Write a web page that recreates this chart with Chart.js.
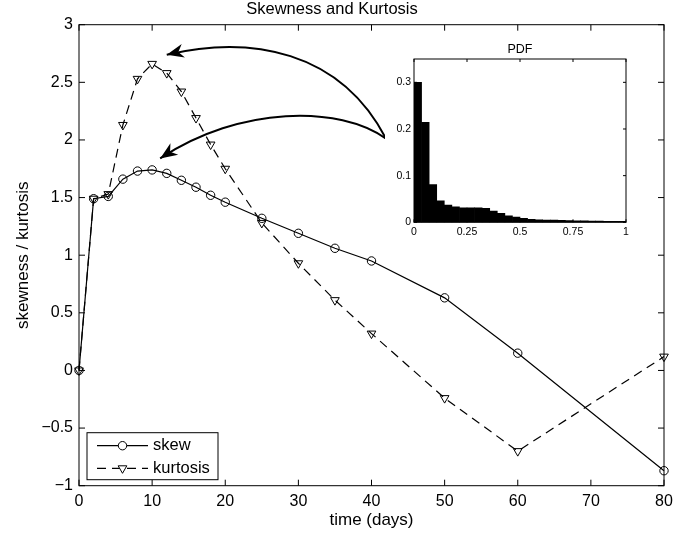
<!DOCTYPE html>
<html lang="en">
<head>
<meta charset="UTF-8">
<title>Skewness and Kurtosis</title>
<script src="https://cdn.jsdelivr.net/npm/chart.js"></script>
<style>
  body { margin: 0; background: #fff; }
  #wrap { position: relative; width: 695px; height: 535px; }
  #mainChart { position: absolute; left: 0; top: 0; }
  #pdfChart { position: absolute; left: 385px; top: 38px; }
</style>
</head>
<body>
<div id="wrap">
  <canvas id="mainChart" width="695" height="535"></canvas>
  <canvas id="pdfChart" width="255" height="205"></canvas>
</div>
<script>
// main plot data
const days = [0, 2, 4, 6, 8, 10, 12, 14, 16, 18, 20, 25, 30, 35, 40, 50, 60, 80];
const skew = [0, 1.49, 1.51, 1.66, 1.73, 1.74, 1.71, 1.65, 1.59, 1.52, 1.46, 1.32, 1.19, 1.06, 0.95, 0.63, 0.15, -0.87];
const kurtosis = [0, 1.49, 1.53, 2.13, 2.53, 2.66, 2.58, 2.42, 2.19, 1.96, 1.75, 1.28, 0.93, 0.61, 0.32, -0.24, -0.70, 0.12];
const dayTicks = [0, 10, 20, 30, 40, 50, 60, 70, 80];
const valueTicks = [-1, -0.5, 0, 0.5, 1, 1.5, 2, 2.5, 3];

// inset histogram (28 bins on [0, 1])
const pdfValues = [0.300, 0.214, 0.081, 0.046, 0.037, 0.033, 0.031, 0.031, 0.031, 0.030,
                   0.024, 0.019, 0.014, 0.011, 0.0085, 0.0065, 0.0055, 0.005, 0.0045, 0.004,
                   0.0035, 0.003, 0.003, 0.0025, 0.0025, 0.002, 0.002, 0.002];
const pdfXTicks = [0, 0.25, 0.5, 0.75, 1];
const pdfYTicks = [0, 0.1, 0.2, 0.3];

// annotation arrows, in data units (start, two control points, end)
const arrows = [
  [[42.0, 2.01], [35.7, 2.78], [23.4, 2.91], [12.0, 2.74]],
  [[42.0, 2.01], [35.7, 2.30], [22.0, 2.30], [11.1, 1.84]]
];

const FONT = "'Liberation Sans', Arial, Helvetica, sans-serif";
Chart.defaults.font.family = FONT;
Chart.defaults.color = '#000';

const minus = v => String(v).replace('-', '\u2212');

function setTicks(values) {
  return scale => { scale.ticks = values.map(v => ({ value: v })); };
}

// box + inward tick marks, MATLAB style
function drawFrame(chart, len) {
  const { ctx, chartArea: a, scales: { x, y } } = chart;
  ctx.save();
  ctx.strokeStyle = '#000';
  ctx.lineWidth = 1;
  ctx.setLineDash([]);
  ctx.strokeRect(a.left, a.top, a.right - a.left, a.bottom - a.top);
  ctx.beginPath();
  x.ticks.forEach(t => {
    const p = x.getPixelForValue(t.value);
    ctx.moveTo(p, a.bottom); ctx.lineTo(p, a.bottom - len);
    ctx.moveTo(p, a.top); ctx.lineTo(p, a.top + len);
  });
  y.ticks.forEach(t => {
    const p = y.getPixelForValue(t.value);
    ctx.moveTo(a.left, p); ctx.lineTo(a.left + len, p);
    ctx.moveTo(a.right, p); ctx.lineTo(a.right - len, p);
  });
  ctx.stroke();
  ctx.restore();
}

const mainDecor = {
  id: 'mainDecor',
  afterDraw(chart) {
    const { ctx, chartArea: a, scales: { x, y } } = chart;
    drawFrame(chart, 6);

    // arrows
    ctx.save();
    ctx.strokeStyle = '#000';
    ctx.fillStyle = '#000';
    ctx.lineWidth = 2;
    arrows.forEach(pts => {
      const p = pts.map(d => [x.getPixelForValue(d[0]), y.getPixelForValue(d[1])]);
      ctx.beginPath();
      ctx.moveTo(p[0][0], p[0][1]);
      ctx.bezierCurveTo(p[1][0], p[1][1], p[2][0], p[2][1], p[3][0], p[3][1]);
      ctx.stroke();
      const ang = Math.atan2(p[3][1] - p[2][1], p[3][0] - p[2][0]);
      const tip = p[3];
      const L = 17, W = 7;
      const bx = tip[0] - L * Math.cos(ang), by = tip[1] - L * Math.sin(ang);
      const nx = -Math.sin(ang), ny = Math.cos(ang);
      const mx = tip[0] - L * 0.7 * Math.cos(ang), my = tip[1] - L * 0.7 * Math.sin(ang);
      ctx.beginPath();
      ctx.moveTo(tip[0], tip[1]);
      ctx.lineTo(bx + nx * W, by + ny * W);
      ctx.lineTo(mx, my);
      ctx.lineTo(bx - nx * W, by - ny * W);
      ctx.closePath();
      ctx.fill();
    });
    ctx.restore();

    // legend box, lower left
    const bl = a.left + 8, bt = a.bottom - 53, bw = 131, bh = 47;
    ctx.save();
    ctx.fillStyle = '#fff';
    ctx.fillRect(bl, bt, bw, bh);
    ctx.strokeStyle = '#000';
    ctx.lineWidth = 1;
    ctx.strokeRect(bl, bt, bw, bh);
    chart.data.datasets.forEach((ds, i) => {
      const ry = bt + 13 + i * 22.6;
      ctx.strokeStyle = '#000';
      ctx.lineWidth = ds.borderWidth;
      ctx.setLineDash(ds.borderDash || []);
      ctx.beginPath();
      ctx.moveTo(bl + 10, ry);
      ctx.lineTo(bl + 61, ry);
      ctx.stroke();
      ctx.setLineDash([]);
      ctx.lineWidth = 1;
      ctx.fillStyle = '#fff';
      Chart.helpers.drawPoint(ctx, {
        pointStyle: ds.pointStyle, rotation: ds.pointRotation || 0,
        radius: ds.pointRadius, borderWidth: 1
      }, bl + 35.5, ry);
      ctx.fillStyle = '#000';
      ctx.font = '16.5px ' + FONT;
      ctx.textBaseline = 'middle';
      ctx.textAlign = 'left';
      ctx.fillText(ds.label, bl + 66, ry);
    });
    ctx.restore();
  }
};

new Chart(document.getElementById('mainChart'), {
  type: 'line',
  data: {
    datasets: [
      {
        label: 'skew',
        data: days.map((d, i) => ({ x: d, y: skew[i] })),
        borderColor: '#000',
        borderWidth: 1.2,
        pointStyle: 'circle',
        pointRadius: 4.2,
        pointBorderColor: '#000',
        pointBorderWidth: 1,
        pointBackgroundColor: 'rgba(0,0,0,0)',
        tension: 0,
        clip: false
      },
      {
        label: 'kurtosis',
        data: days.map((d, i) => ({ x: d, y: kurtosis[i] })),
        borderColor: '#000',
        borderWidth: 1.2,
        borderDash: [9, 6],
        pointStyle: 'triangle',
        pointRotation: 180,
        pointRadius: 5,
        pointBorderColor: '#000',
        pointBorderWidth: 1,
        pointBackgroundColor: 'rgba(0,0,0,0)',
        tension: 0,
        clip: false
      }
    ]
  },
  options: {
    responsive: false,
    animation: false,
    layout: { padding: { left: 0, right: 31, top: 0, bottom: 0 } },
    plugins: {
      legend: { display: false },
      tooltip: { enabled: false },
      title: {
        display: true,
        text: 'Skewness and Kurtosis',
        font: { size: 16.5, weight: 'normal' },
        padding: { top: 0, bottom: 4.9 }
      }
    },
    scales: {
      x: {
        type: 'linear',
        min: 0, max: 80,
        afterBuildTicks: setTicks(dayTicks),
        afterFit: s => { s.height = 49.3; },
        grid: { display: false, drawTicks: false },
        border: { display: false },
        ticks: { font: { size: 16 }, padding: 6, callback: v => minus(v) },
        title: { display: true, text: 'time (days)', font: { size: 17 }, padding: { top: 0, bottom: 4.8 } }
      },
      y: {
        type: 'linear',
        min: -1, max: 3,
        afterBuildTicks: setTicks(valueTicks),
        afterFit: s => { s.width = 79; },
        grid: { display: false, drawTicks: false },
        border: { display: false },
        ticks: { font: { size: 16 }, padding: 6, callback: v => minus(v) },
        title: { display: true, text: 'skewness / kurtosis', font: { size: 17 }, padding: { top: 12.8, bottom: 0 } }
      }
    }
  },
  plugins: [mainDecor]
});

const pdfDecor = {
  id: 'pdfDecor',
  beforeDraw(chart) {
    const { ctx, width, height } = chart;
    ctx.save();
    ctx.fillStyle = '#fff';
    ctx.fillRect(0, 0, width, height);
    ctx.restore();
  },
  afterDraw(chart) {
    const { ctx, chartArea: a } = chart;
    drawFrame(chart, 3);
    ctx.save();
    ctx.fillStyle = '#000';
    ctx.font = '12.5px ' + FONT;
    ctx.textAlign = 'center';
    ctx.textBaseline = 'middle';
    ctx.fillText('PDF', (a.left + a.right) / 2, 12);
    ctx.restore();
  }
};

new Chart(document.getElementById('pdfChart'), {
  type: 'bar',
  data: {
    datasets: [{
      label: 'PDF',
      data: pdfValues.map((v, i) => ({ x: (i + 0.5) / pdfValues.length, y: v })),
      backgroundColor: '#000',
      borderWidth: 0,
      barPercentage: 1,
      categoryPercentage: 1
    }]
  },
  options: {
    responsive: false,
    animation: false,
    layout: { padding: { left: 0, right: 14, top: 21, bottom: 0 } },
    plugins: { legend: { display: false }, tooltip: { enabled: false } },
    scales: {
      x: {
        type: 'linear',
        min: 0, max: 1,
        offset: false,
        afterBuildTicks: setTicks(pdfXTicks),
        afterFit: s => { s.height = 20.7; },
        grid: { display: false, drawTicks: false, offset: false },
        border: { display: false },
        ticks: { font: { size: 10.5 }, padding: 4, callback: v => String(v) }
      },
      y: {
        type: 'linear',
        min: 0, max: 0.35,
        afterBuildTicks: setTicks(pdfYTicks),
        afterFit: s => { s.width = 29; },
        grid: { display: false, drawTicks: false },
        border: { display: false },
        ticks: { font: { size: 10.5 }, padding: 3, callback: v => String(v) }
      }
    }
  },
  plugins: [pdfDecor]
});
</script>
</body>
</html>
